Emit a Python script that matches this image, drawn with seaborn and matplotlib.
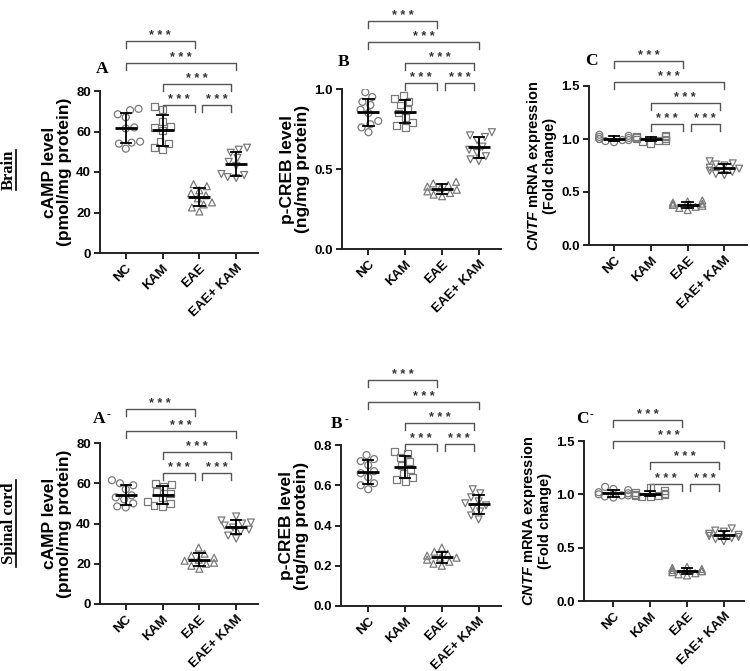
import numpy as np
import pandas as pd
import matplotlib
matplotlib.use("Agg")
import matplotlib.pyplot as plt
import seaborn as sns
from matplotlib.lines import Line2D

# ---------------- data ----------------
groups = ["NC", "KAM", "EAE", "EAE+ KAM"]

# Brain
brain_camp_nc = [70.5, 71.2, 68.5, 67.0, 62.0, 61.5, 55.0, 54.5, 54.0, 51.5]
brain_camp_kam = [72.5, 71.0, 65.0, 62.5, 62.0, 60.5, 55.0, 54.0, 52.0, 51.0]
brain_camp_eae = [34.0, 33.0, 31.0, 29.5, 28.5, 27.0, 25.0, 24.0, 22.5, 20.5]
brain_camp_eaekam = [52.0, 51.0, 49.5, 47.0, 45.0, 43.0, 39.0, 38.5, 37.5, 37.0]

brain_pcreb_nc = [0.98, 0.95, 0.92, 0.90, 0.87, 0.85, 0.80, 0.78, 0.76, 0.73]
brain_pcreb_kam = [0.96, 0.94, 0.92, 0.90, 0.87, 0.85, 0.82, 0.79, 0.77, 0.76]
brain_pcreb_eae = [0.42, 0.41, 0.40, 0.39, 0.38, 0.37, 0.36, 0.35, 0.34, 0.33]
brain_pcreb_eaekam = [0.73, 0.71, 0.70, 0.68, 0.64, 0.62, 0.60, 0.58, 0.56, 0.55]

brain_cntf_nc = [1.04, 1.03, 1.02, 1.01, 1.00, 1.00, 0.99, 0.99, 0.98, 0.97]
brain_cntf_kam = [1.03, 1.02, 1.02, 1.01, 1.00, 1.00, 0.99, 0.99, 0.98, 0.96]
brain_cntf_eae = [0.42, 0.41, 0.40, 0.39, 0.38, 0.38, 0.37, 0.36, 0.35, 0.33]
brain_cntf_eaekam = [0.79, 0.77, 0.76, 0.75, 0.73, 0.72, 0.70, 0.69, 0.67, 0.66]

# Spinal cord
sc_camp_nc = [61.5, 60.0, 59.0, 57.0, 54.0, 53.0, 52.0, 50.0, 48.5, 48.0]
sc_camp_kam = [60.0, 59.5, 58.5, 56.0, 55.0, 53.0, 51.0, 50.0, 49.0, 48.5]
sc_camp_eae = [28.0, 25.0, 24.0, 23.0, 22.0, 21.5, 20.5, 20.0, 19.0, 17.5]
sc_camp_eaekam = [43.5, 41.5, 40.5, 40.0, 39.0, 38.0, 37.0, 36.0, 34.0, 32.5]

sc_pcreb_nc = [0.75, 0.73, 0.72, 0.70, 0.67, 0.66, 0.64, 0.61, 0.60, 0.58]
sc_pcreb_kam = [0.77, 0.76, 0.74, 0.72, 0.70, 0.68, 0.66, 0.64, 0.63, 0.62]
sc_pcreb_eae = [0.29, 0.27, 0.26, 0.25, 0.24, 0.24, 0.23, 0.22, 0.21, 0.20]
sc_pcreb_eaekam = [0.58, 0.56, 0.54, 0.52, 0.51, 0.50, 0.49, 0.47, 0.45, 0.43]

sc_cntf_nc = [1.07, 1.05, 1.04, 1.02, 1.01, 1.00, 0.99, 0.99, 0.98, 0.97]
sc_cntf_kam = [1.06, 1.04, 1.02, 1.01, 1.00, 1.00, 0.99, 0.99, 0.98, 0.98]
sc_cntf_eae = [0.32, 0.31, 0.30, 0.29, 0.28, 0.28, 0.27, 0.26, 0.25, 0.24]
sc_cntf_eaekam = [0.68, 0.66, 0.65, 0.63, 0.62, 0.61, 0.60, 0.59, 0.58, 0.56]

# y ticks
ticks_camp = [0, 20, 40, 60, 80]
ticks_pcreb_brain = [0.0, 0.5, 1.0]
ticks_pcreb_sc = [0.0, 0.2, 0.4, 0.6, 0.8]
ticks_cntf = [0.0, 0.5, 1.0, 1.5]

# significance comparisons (group index pairs) and labels
comparisons = [(0, 2), (0, 3), (1, 3), (1, 2), (2, 3)]
sig_label = "* * *"

# bracket heights per panel (data units) for the comparisons above
brackets_brain_camp = [104.7, 93.8, 83.5, 73.1, 73.1]
brackets_brain_pcreb = [1.427, 1.296, 1.164, 1.036, 1.036]
brackets_brain_cntf = [1.736, 1.538, 1.340, 1.142, 1.142]
brackets_sc_camp = [96.7, 86.0, 75.4, 64.9, 64.9]
brackets_sc_pcreb = [1.124, 1.013, 0.909, 0.806, 0.806]
brackets_sc_cntf = [1.696, 1.497, 1.300, 1.097, 1.097]

# ---------------- style ----------------
plt.rcParams.update({
    "font.family": ["Liberation Sans", "DejaVu Sans"],
    "font.sans-serif": ["Liberation Sans"],
    "font.weight": "bold",
    "axes.labelweight": "bold",
    "mathtext.fontset": "custom",
    "mathtext.rm": "Liberation Sans:bold",
    "mathtext.it": "Liberation Sans:italic:bold",
    "mathtext.bf": "Liberation Sans:bold",
})

markers = ["o", "s", "^", "v"]
W, H = 750, 671
fig = plt.figure(figsize=(W / 100, H / 100), dpi=100)


def make_df(vals):
    rows = []
    for g, v in zip(groups, vals):
        for x in v:
            rows.append((g, x))
    return pd.DataFrame(rows, columns=["group", "value"])


# offsets of bracket ends (style): (left shift, right shift) in category units
bracket_ends = [(0.0, -0.13), (0.0, 0.0), (0.0, -0.13), (0.0, -0.13), (0.08, -0.13)]

panels = [
    # vals, ticks, fmt, ylabel, label size, brackets, left_px, y0_px, ytop_px, xlim, label, label xy
    ([brain_camp_nc, brain_camp_kam, brain_camp_eae, brain_camp_eaekam], ticks_camp, "{:.0f}",
     "cAMP level\n(pmol/mg protein)", 12.5, brackets_brain_camp, 100, 253, 91, (-0.70, 3.60), "A", (102, 69)),
    ([brain_pcreb_nc, brain_pcreb_kam, brain_pcreb_eae, brain_pcreb_eaekam], ticks_pcreb_brain, "{:.1f}",
     "p-CREB level\n(ng/mg protein)", 12.5, brackets_brain_pcreb, 342, 249, 89, (-0.72, 3.60), "B", (344, 62)),
    ([brain_cntf_nc, brain_cntf_kam, brain_cntf_eae, brain_cntf_eaekam], ticks_cntf, "{:.1f}",
     r"$\it{CNTF}$ mRNA expression" + "\n(Fold change)", 10.5, brackets_brain_cntf, 589, 245, 86, (-0.68, 3.60), "C", (591, 61)),
    ([sc_camp_nc, sc_camp_kam, sc_camp_eae, sc_camp_eaekam], ticks_camp, "{:.0f}",
     "cAMP level\n(pmol/mg protein)", 12.5, brackets_sc_camp, 100, 604, 443, (-0.70, 3.60), "A", (99, 419)),
    ([sc_pcreb_nc, sc_pcreb_kam, sc_pcreb_eae, sc_pcreb_eaekam], ticks_pcreb_sc, "{:.1f}",
     "p-CREB level\n(ng/mg protein)", 12.5, brackets_sc_pcreb, 341, 606, 445, (-0.74, 3.60), "B", (337, 424)),
    ([sc_cntf_nc, sc_cntf_kam, sc_cntf_eae, sc_cntf_eaekam], ticks_cntf, "{:.1f}",
     r"$\it{CNTF}$ mRNA expression" + "\n(Fold change)", 10.5, brackets_sc_cntf, 584, 601, 441, (-0.80, 3.55), "C", (582, 419)),
]

spacing = 36.8
for i, (vals, ticks, fmt, ylab, ylsize, brk, lpx, y0px, ytpx, xlim, lab, lxy) in enumerate(panels):
    wpx = (xlim[1] - xlim[0]) * spacing
    ax = fig.add_axes([lpx / W, 1 - y0px / H, wpx / W, (y0px - ytpx) / H])
    df = make_df(vals)
    for g, m in zip(groups, markers):
        sns.swarmplot(data=df[df.group == g], x="group", y="value", order=groups,
                      marker=m, size=5.0, color="white", edgecolor="#7a7a7a",
                      linewidth=0.9, ax=ax, zorder=3, warn_thresh=1.0)
    for c in ax.collections:
        c.set_facecolor("none")
        c.set_edgecolor("#7a7a7a")
    sns.pointplot(data=df, x="group", y="value", order=groups, errorbar="sd",
                  color="black", markers="_", markersize=16, markeredgewidth=2.0,
                  linestyle="none", capsize=0.28,
                  err_kws={"linewidth": 1.3, "zorder": 6}, ax=ax, zorder=6)

    ymax = ticks[-1]
    ax.set_ylim(0, ymax)
    ax.set_xlim(*xlim)
    ax.set_yticks(ticks)
    ax.set_yticklabels([fmt.format(t) for t in ticks], fontsize=9.5, fontweight="bold")
    ax.set_xticks(range(len(groups)))
    ax.set_xticklabels(groups, rotation=45, ha="right", rotation_mode="anchor",
                       fontsize=9.5, fontweight="bold")
    ax.set_xlabel("")
    ax.set_ylabel(ylab, fontsize=ylsize, fontweight="bold", linespacing=1.0, labelpad=3)
    for s in ["top", "right"]:
        ax.spines[s].set_visible(False)
    for s in ["left", "bottom"]:
        ax.spines[s].set_linewidth(1.4)
        ax.spines[s].set_color("#222222")
    ax.tick_params(axis="both", width=1.4, length=4.5, color="#222222", pad=2)
    ax.set_facecolor("none")

    # significance brackets
    h = 0.044 * ymax
    for (a, b), yb, (dl, dr) in zip(comparisons, brk, bracket_ends):
        x1, x2 = a + dl, b + dr
        ax.plot([x1, x1, x2, x2], [yb - h, yb, yb, yb - h], color="#555555",
                lw=1.0, clip_on=False, zorder=2)
        ax.annotate(sig_label, xy=((x1 + x2) / 2, yb), xytext=(0, 1.5),
                    textcoords="offset points", ha="center", va="baseline",
                    fontsize=9, color="#333333", annotation_clip=False)

    # panel label
    t = fig.text(lxy[0] / W, 1 - lxy[1] / H, lab, family="Liberation Serif",
                 weight="bold", fontsize=12.5, ha="center", va="center")
    if i >= 3:
        ax.annotate("-", xy=(1.0, 1.0), xycoords=t, xytext=(1, 1),
                    textcoords="offset points", ha="left", va="top",
                    fontsize=8, family="Liberation Serif", weight="bold",
                    annotation_clip=False)

# row labels with underline
for txt, ycen, y_a, y_b in [("Brain", 170, 150, 190), ("Spinal cord", 523, 480, 567)]:
    fig.text(9 / W, 1 - ycen / H, txt, rotation=90, family="Liberation Serif",
             weight="bold", fontsize=12, ha="center", va="center")
    fig.add_artist(Line2D([15.5 / W, 15.5 / W], [1 - y_a / H, 1 - y_b / H],
                          color="black", lw=1.2, transform=fig.transFigure))

fig.savefig("out.png", dpi=100, facecolor="white")
